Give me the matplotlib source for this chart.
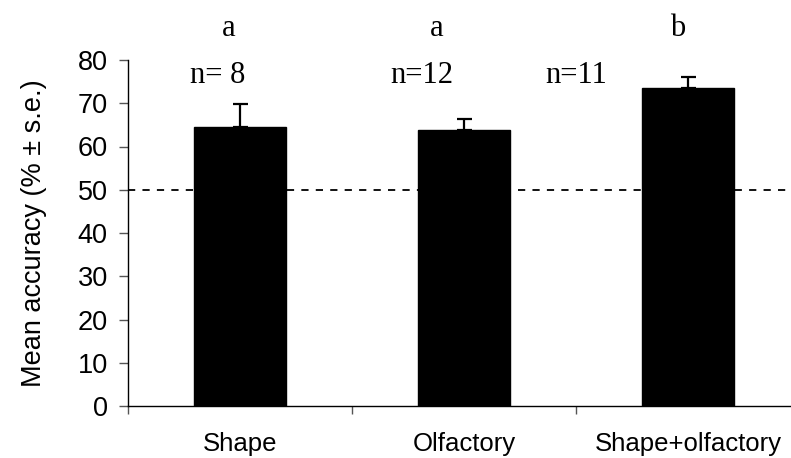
import matplotlib
matplotlib.use("Agg")
import matplotlib.pyplot as plt
import numpy as np

categories = ["Shape", "Olfactory", "Shape+olfactory"]
means = [64.6, 63.7, 73.5]
se = [5.2, 2.7, 2.6]
letters = ["a", "a", "b"]
n_labels = ["n= 8", "n=12", "n=11"]
chance = 50

W, H = 791, 458
fig = plt.figure(figsize=(W / 100, H / 100), dpi=100)
ax = fig.add_axes([128 / W, 1 - 406 / H, (800 - 128) / W, (406 - 60) / H])

x = np.arange(len(categories))
ax.axhline(chance, color="black", lw=1.3, ls=(0, (4, 4)), zorder=1)
ax.bar(x, means, width=0.41, color="black", edgecolor="black", zorder=2)
ax.errorbar(x, means, yerr=[[0] * len(se), se], fmt="none", ecolor="black",
            elinewidth=1.6, capsize=5.4, capthick=1.6, zorder=3)

ax.set_xlim(-0.5, 2.5)
ax.set_ylim(0, 80)
ax.set_yticks(np.arange(0, 81, 10))
ax.set_xticks(x)
ax.set_xticklabels(categories, fontfamily="Liberation Sans", fontsize=18.5)
ax.set_xticks([-0.5, 0.5, 1.5, 2.5], minor=True)
ax.tick_params(axis="x", which="major", length=0, pad=19)
ax.tick_params(axis="x", which="minor", length=6, direction="out", color="#555555", width=1)
ax.tick_params(axis="y", length=6.5, direction="out", color="#555555", width=1,
               labelsize=19.5, pad=8)
for lab in ax.get_yticklabels():
    lab.set_fontfamily("Liberation Sans")

ax.spines["top"].set_visible(False)
ax.spines["right"].set_visible(False)
ax.spines["left"].set_linewidth(1)
ax.spines["bottom"].set_linewidth(1)

ax.set_ylabel("Mean accuracy (% ± s.e.)", fontfamily="Liberation Sans",
              fontsize=19.5, labelpad=22)

letter_dx = [-0.05, -0.12, -0.045]
n_dx = [-0.1, -0.19, -0.5]
for i in range(len(categories)):
    ax.text(x[i] + letter_dx[i], 87.3, letters[i], ha="center", va="center",
            fontfamily="Liberation Serif", fontsize=22, clip_on=False)
    ax.text(x[i] + n_dx[i], 76.5, n_labels[i], ha="center", va="center",
            fontfamily="Liberation Serif", fontsize=22, clip_on=False)

fig.savefig("out.png", dpi=100)
